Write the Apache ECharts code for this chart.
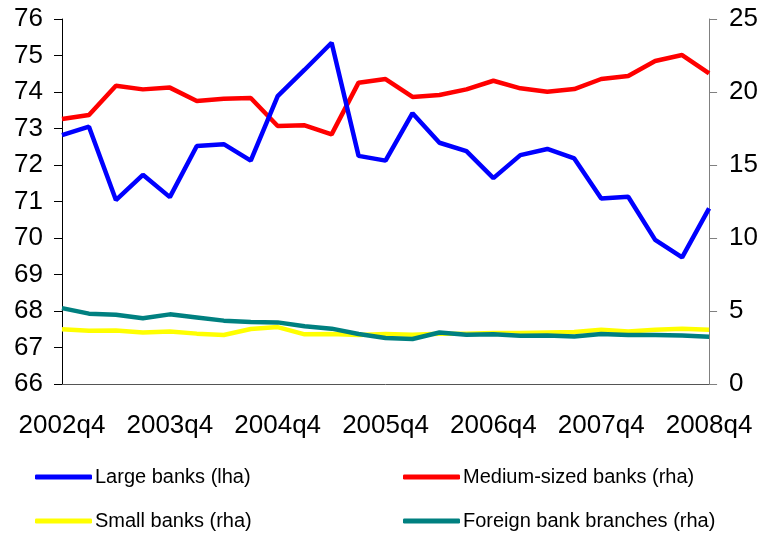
<!DOCTYPE html>
<html>
<head>
<meta charset="utf-8">
<script src="https://cdn.jsdelivr.net/npm/echarts@6/dist/echarts.min.js"></script>
<style>
html,body{margin:0;padding:0;background:#fff;}
#chart{width:761px;height:534px;}
</style>
</head>
<body>
<div id="chart"></div>
<script>
var categories = [];
(function(){
  categories.push('2002q4');
  for (var y = 2003; y <= 2008; y++) {
    for (var q = 1; q <= 4; q++) categories.push(y + 'q' + q);
  }
})();

var largeBanks = [72.82,73.05,71.04,71.73,71.12,72.52,72.57,72.12,73.89,74.61,75.35,72.25,72.12,73.42,72.61,72.38,71.64,72.27,72.44,72.18,71.08,71.13,69.95,69.47,70.81];
var mediumBanks = [18.15,18.42,20.43,20.18,20.30,19.38,19.54,19.59,17.67,17.72,17.10,20.64,20.89,19.66,19.79,20.18,20.77,20.25,20.02,20.20,20.89,21.10,22.12,22.53,21.28];
var smallBanks = [3.75,3.65,3.67,3.53,3.60,3.45,3.36,3.77,3.90,3.40,3.42,3.36,3.42,3.38,3.45,3.45,3.49,3.49,3.53,3.56,3.72,3.60,3.72,3.79,3.72];
var foreignBranches = [5.20,4.82,4.75,4.50,4.77,4.56,4.34,4.25,4.22,3.95,3.79,3.42,3.15,3.08,3.53,3.38,3.40,3.31,3.33,3.26,3.42,3.36,3.36,3.33,3.24];

var seriesNames = ['Large banks (lha)','Medium-sized banks (rha)','Small banks (rha)','Foreign bank branches (rha)'];
var seriesColors = ['#0000FF','#FF0000','#FFFF00','#008080'];

var chart = echarts.init(document.getElementById('chart'));
var font = "'Liberation Sans', Arial, sans-serif";

function mkLegend(name, left, top) {
  return {
    data: [name], left: left, top: top,
    itemWidth: 57, itemHeight: 5, itemGap: 0,
    icon: 'roundRect',
    textStyle: {fontFamily: font, fontSize: 20, color: '#000', padding: [0,0,0,-2]},
    padding: 0
  };
}

chart.setOption({
  animation: false,
  backgroundColor: '#fff',
  textStyle: {fontFamily: font},
  grid: {left: 62, right: 51, top: 19, bottom: 150, containLabel: false},
  legend: [
    mkLegend(seriesNames[0], 35, 467),
    mkLegend(seriesNames[1], 403, 467),
    mkLegend(seriesNames[2], 35, 511),
    mkLegend(seriesNames[3], 403, 511)
  ],
  xAxis: {
    type: 'category', data: categories, boundaryGap: false,
    axisLine: {lineStyle: {color: '#555', width: 1}},
    axisTick: {show: false},
    axisLabel: {interval: 3, color: '#000', fontSize: 26, fontFamily: font, margin: 29, showMaxLabel: true}
  },
  yAxis: [
    {
      type: 'value', min: 66, max: 76, interval: 1, position: 'left',
      axisLine: {show: true, lineStyle: {color: '#000', width: 1}},
      axisTick: {show: true, length: 8, lineStyle: {color: '#000'}},
      splitLine: {show: false},
      axisLabel: {color: '#000', fontSize: 26, fontFamily: font, margin: 19}
    },
    {
      type: 'value', min: 0, max: 25, interval: 5, position: 'right',
      axisLine: {show: true, lineStyle: {color: '#808080', width: 1}},
      axisTick: {show: true, length: 8, lineStyle: {color: '#808080'}},
      splitLine: {show: false},
      axisLabel: {color: '#000', fontSize: 26, fontFamily: font, margin: 20}
    }
  ],
  series: [
    {name: seriesNames[0], type: 'line', yAxisIndex: 0, data: largeBanks, showSymbol: false, color: seriesColors[0], lineStyle: {width: 4.5, color: seriesColors[0]}, z: 5},
    {name: seriesNames[1], type: 'line', yAxisIndex: 1, data: mediumBanks, showSymbol: false, color: seriesColors[1], lineStyle: {width: 4.5, color: seriesColors[1]}, z: 4},
    {name: seriesNames[2], type: 'line', yAxisIndex: 1, data: smallBanks, showSymbol: false, color: seriesColors[2], lineStyle: {width: 4.5, color: seriesColors[2]}, z: 2},
    {name: seriesNames[3], type: 'line', yAxisIndex: 1, data: foreignBranches, showSymbol: false, color: seriesColors[3], lineStyle: {width: 4.5, color: seriesColors[3]}, z: 3}
  ]
});
</script>
</body>
</html>
